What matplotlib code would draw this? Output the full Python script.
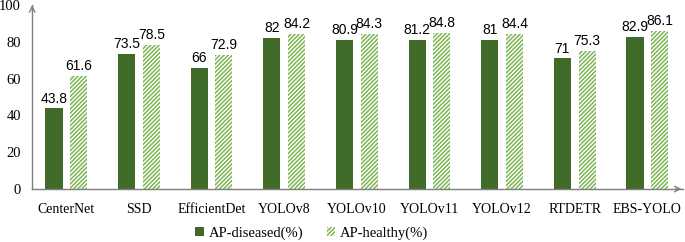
import matplotlib
matplotlib.use("Agg")
import matplotlib.pyplot as plt
import numpy as np

categories = ["CenterNet", "SSD", "EfficientDet", "YOLOv8", "YOLOv10", "YOLOv11", "YOLOv12", "RTDETR", "EBS-YOLO"]
ap_diseased = [43.8, 73.5, 66, 82, 80.9, 81.2, 81, 71, 82.9]
ap_healthy = [61.6, 78.5, 72.9, 84.2, 84.3, 84.8, 84.4, 75.3, 86.1]
yticks = [0, 20, 40, 60, 80, 100]

plt.rcParams['hatch.color'] = '#7DB552'
plt.rcParams['hatch.linewidth'] = 1.1

fig = plt.figure(figsize=(6.85, 2.42), dpi=100)
ax = fig.add_axes([0.047, 0.219, 0.95, 0.76])

x = np.arange(len(categories))
w = 0.235
off = 0.17
b1 = ax.bar(x - off, ap_diseased, w, color='#3F6A27', label='AP-diseased(%)')
b2 = ax.bar(x + off, ap_healthy, w, color='white', edgecolor='#7DB552', linewidth=0,
            hatch='////////', label='AP-healthy(%)')

for xi, v in zip(x - off, ap_diseased):
    ax.text(xi, v + 1.5, f"{v:g}", ha='center', va='bottom', fontsize=10, family='Liberation Sans')
for xi, v in zip(x + off, ap_healthy):
    ax.text(xi, v + 1.5, f"{v:g}", ha='center', va='bottom', fontsize=10, family='Liberation Sans')

ax.set_xlim(-0.47, 8.49)
ax.set_ylim(0, 100)
ax.set_xticks(x)
ax.set_xticklabels(categories, family='Liberation Serif', fontsize=10)
ax.set_yticks(yticks)
ax.set_yticklabels([str(t) for t in yticks], family='Liberation Serif', fontsize=10.5)
ax.tick_params(axis='x', length=0, pad=10)
ax.tick_params(axis='y', length=0, pad=8)
for s in ['top', 'right']:
    ax.spines[s].set_visible(False)
for s in ['left', 'bottom']:
    ax.spines[s].set_color('#7F7F7F')
    ax.spines[s].set_linewidth(1.0)

# arrows
ax.annotate('', xy=(-0.47, 101.5), xytext=(-0.47, 96), xycoords='data',
            arrowprops=dict(arrowstyle='->', color='#7F7F7F', lw=1.0), annotation_clip=False)
ax.annotate('', xy=(8.51, 0), xytext=(8.35, 0), xycoords='data',
            arrowprops=dict(arrowstyle='->', color='#7F7F7F', lw=1.0), annotation_clip=False)

leg = fig.legend(handles=[b1, b2], loc='lower center', bbox_to_anchor=(0.455, -0.045), ncol=2,
                 frameon=False, prop={'family': 'Liberation Serif', 'size': 10.5},
                 handlelength=0.6, handleheight=0.6, handletextpad=0.3, columnspacing=1.6)

fig.savefig('out.png', dpi=100)
